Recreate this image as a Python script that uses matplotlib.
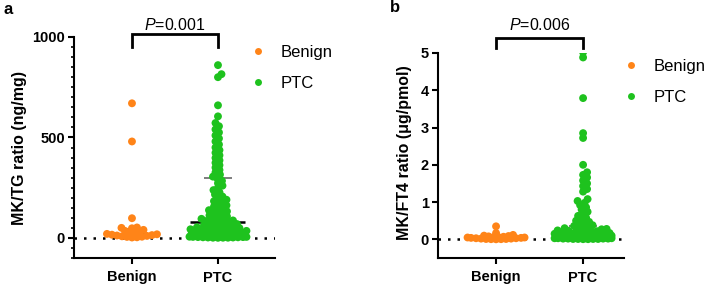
import numpy as np
import matplotlib
matplotlib.use('Agg')
import matplotlib.pyplot as plt
from matplotlib.lines import Line2D

plt.rcParams['font.family'] = ['Liberation Sans', 'DejaVu Sans']
plt.rcParams['mathtext.fontset'] = 'custom'
plt.rcParams['mathtext.it'] = 'Liberation Sans:italic'
plt.rcParams['mathtext.rm'] = 'Liberation Sans'

# ---------------- data ----------------
categories = ['Benign', 'PTC']
colors = ['#FF8418', '#1EC21E']

benign_tg = [670, 480, 98, 52, 50, 48, 40, 35, 30, 26, 22, 20, 18, 16, 14, 12,
             10, 8, 6, 5, 3, 2]
ptc_tg = [860, 815, 800, 660, 605, 572,
          556, 540, 525, 510, 495, 480, 465, 450, 437, 424, 411, 398, 386, 374,
          362, 350, 338, 326, 315, 305,
          295, 284, 272, 260, 249, 238, 227, 216, 206,
          197, 190, 183, 176, 169, 162, 156, 150, 144, 138, 132, 127, 122, 117,
          112, 107, 103,
          99, 95, 91, 87, 84, 81, 78, 75, 72, 69, 66, 63, 60, 57, 55, 53, 51,
          49, 47, 45, 43, 41, 39, 37, 35, 33, 31, 30, 28, 27, 25, 24, 22, 21,
          20, 19, 18, 17, 16, 15, 14, 13, 12, 11, 10, 10, 9, 9, 8, 8, 7, 7, 6,
          6, 5, 5, 4, 4, 3, 3, 2, 2, 1, 1, 1, 0.5]
center_tg = [18, 80]
upper_tg = [45, 300]

benign_ft4 = [0.35, 0.17, 0.12, 0.10, 0.09, 0.08, 0.07, 0.06, 0.06, 0.05, 0.05,
              0.04, 0.04, 0.03, 0.03, 0.02, 0.02, 0.01, 0.01, 0.005, 0.005, 0.002]
ptc_ft4 = [5.02, 4.88, 3.79, 2.85, 2.72, 2.0, 1.8, 1.73, 1.66, 1.58, 1.5, 1.43,
           1.35, 1.28, 1.08, 1.03, 0.98, 0.92, 0.86, 0.8, 0.74, 0.68, 0.63, 0.58,
           0.54, 0.5, 0.47, 0.44, 0.41, 0.38, 0.36, 0.34, 0.32, 0.3, 0.28, 0.27,
           0.25, 0.24, 0.23, 0.22, 0.21, 0.2, 0.19, 0.18, 0.17, 0.16, 0.16, 0.15,
           0.15, 0.14, 0.14, 0.13, 0.13, 0.12, 0.12, 0.11, 0.11, 0.1, 0.1, 0.1,
           0.09, 0.09, 0.09, 0.08, 0.08, 0.08, 0.07, 0.07, 0.07, 0.06, 0.06, 0.06,
           0.05, 0.05, 0.05, 0.05, 0.04, 0.04, 0.04, 0.04, 0.03, 0.03, 0.03, 0.03,
           0.02, 0.02, 0.02, 0.02, 0.01, 0.01, 0.01, 0.01, 0.005, 0.005]
center_ft4 = [0.04, 0.10]
upper_ft4 = [0.08, 0.37]

p_tg = '0.001'
p_ft4 = '0.006'
ylabel_tg = 'MK/TG ratio (ng/mg)'
ylabel_ft4 = 'MK/FT4 ratio (μg/pmol)'
yticks_tg = [0, 500, 1000]
yticks_ft4 = [0, 1, 2, 3, 4, 5]

# ---------------- layout ----------------
W, H = 709, 290
fig = plt.figure(figsize=(W / 100, H / 100), dpi=100)
axA = fig.add_axes([74 / W, 1 - 258 / H, (275 - 74) / W, (258 - 37) / H])
axB = fig.add_axes([438 / W, 1 - 258 / H, (624 - 438) / W, (258 - 53) / H])


def swarm_x(ax, values, xcenter, d_px=4.6, max_px=28.5):
    trans = ax.transData
    vals = np.asarray(values, dtype=float)
    pts = trans.transform(np.column_stack([np.full(len(vals), xcenter), vals]))
    ys = pts[:, 1]
    x0 = pts[0, 0]
    order = np.argsort(ys)
    step = 0.5
    cands = [0.0]
    k = 1
    while k * step <= max_px:
        cands += [k * step, -k * step]
        k += 1
    placed = []
    offs = np.zeros(len(vals))
    for i in order:
        y = ys[i]
        near = [(px, py) for px, py in placed if abs(py - y) < d_px]
        chosen = None
        bestc, bests = 0.0, -1
        for c in cands:
            if not near:
                chosen = c
                break
            md = min(np.hypot(c - px, y - py) for px, py in near)
            if md >= d_px:
                chosen = c
                break
            if md > bests:
                bests, bestc = md, c
        if chosen is None:
            chosen = bestc
        placed.append((chosen, y))
        offs[i] = chosen
    xs = trans.inverted().transform(np.column_stack([x0 + offs, ys]))[:, 0]
    return xs


def panel(ax, groups, centers, uppers, ylim, xlim, yticks, minor,
          ptxt, br_lo, br_hi, ptxt_y):
    ax.set_xlim(*xlim)
    ax.set_ylim(*ylim)
    for s in ['top', 'right']:
        ax.spines[s].set_visible(False)
    for s in ['left', 'bottom']:
        ax.spines[s].set_linewidth(1.5)
    ax.axhline(0, color='black', lw=1.8, ls=(0, (1, 2.8)), zorder=1)
    for i, vals in enumerate(groups):
        xs = swarm_x(ax, vals, i)
        ax.scatter(xs, vals, s=32, color=colors[i], edgecolors='none', zorder=3)
        # summary lines
        ax.plot([i - 0.32, i + 0.32], [centers[i], centers[i]], color='black',
                lw=1.8, zorder=2, solid_capstyle='butt')
        ax.plot([i - 0.16, i + 0.16], [uppers[i], uppers[i]], color='#5a5a5a',
                lw=1.1, zorder=2, solid_capstyle='butt')
        ax.plot([i, i], [centers[i], uppers[i]], color='#5a5a5a', lw=1.1,
                zorder=2)
    ax.set_xticks([0, 1])
    ax.set_xticklabels(categories, fontsize=10.5, fontweight='bold')
    ax.set_yticks(yticks)
    ax.set_yticklabels([str(t) for t in yticks], fontsize=10.5,
                       fontweight='bold')
    if minor is not None:
        ax.set_yticks(minor, minor=True)
    ax.tick_params(axis='y', which='major', length=4.5, width=1.5, pad=2)
    ax.tick_params(axis='y', which='minor', length=2.5, width=1.2)
    ax.tick_params(axis='x', which='major', length=4, width=1.5, pad=5)
    # bracket
    ax.plot([0, 0, 1, 1], [br_lo, br_hi, br_hi, br_lo], color='black', lw=2.0,
            clip_on=False, solid_joinstyle='miter')
    ax.text(0.5, ptxt_y, r'$\it{P}$=' + ptxt, ha='center', va='center',
            fontsize=11.5)


panel(axA, [benign_tg, ptc_tg], center_tg, upper_tg, (-100, 1000),
      (-0.674, 1.663), yticks_tg, np.arange(-100, 1001, 50),
      p_tg, 952, 1013, 1058)
panel(axB, [benign_ft4, ptc_ft4], center_ft4, upper_ft4, (-0.5, 5.0),
      (-0.667, 1.47), yticks_ft4, None,
      p_ft4, 5.14, 5.39, 5.76)

fig.text(20 / W, 1 - 148 / H, ylabel_tg, rotation=90, ha='center', va='center',
         fontsize=11.5, fontweight='bold')
fig.text(405 / W, 1 - 153 / H, ylabel_ft4, rotation=90, ha='center',
         va='center', fontsize=11.5, fontweight='bold')
fig.text(3 / W, 1 - 9 / H, 'a', ha='left', va='center', fontsize=12,
         fontweight='bold')
fig.text(390 / W, 1 - 8 / H, 'b', ha='left', va='center', fontsize=12,
         fontweight='bold')

handles = [Line2D([], [], ls='none', marker='o', markersize=5,
                  markerfacecolor=c, markeredgecolor='none') for c in colors]
for ax, mx, my in [(axA, 258, 51), (axB, 631, 65)]:
    ax.legend(handles, categories, loc='upper left',
              bbox_to_anchor=((mx - 8.3) / W, 1 - (my - 6) / H),
              bbox_transform=fig.transFigure, frameon=False, fontsize=12,
              handlelength=1.0, handletextpad=0.85, labelspacing=0.93,
              borderpad=0, borderaxespad=0)

fig.savefig('out.png', dpi=100)
